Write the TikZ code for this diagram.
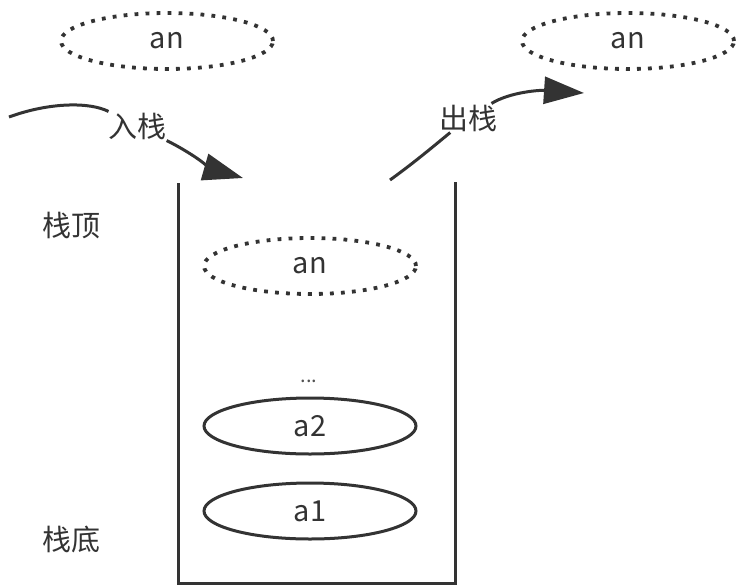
\documentclass[tikz,border=0pt]{standalone}
\usepackage{fontspec}
\setmainfont{Noto Sans CJK SC}
\usetikzlibrary{arrows.meta,shapes.geometric}
\definecolor{ink}{HTML}{333333}
\tikzset{
  elem/.style={ellipse, draw=ink, line width=3pt, minimum width=212pt, minimum height=56pt, inner sep=0pt, text=ink, font=\fontsize{29}{33}\selectfont},
  dotelem/.style={elem, line width=3.8pt, dash pattern=on 3.8pt off 7.2pt},
  lbl/.style={text=ink, font=\fontsize{29}{33}\selectfont, inner sep=1pt},
  flow/.style={draw=ink, line width=3pt},
  flowtip/.style={flow, -{Triangle[length=40pt,width=27pt]}},
  wall/.style={draw=ink, line width=3pt, line cap=butt}
}
\begin{document}
\begin{tikzpicture}[x=1pt,y=-1pt]
\useasboundingbox (0,0) rectangle (736,587);
% top ellipses
\node[dotelem] (inA) at (167,41) {an};
\node[dotelem] (outA) at (628,41) {an};
% container
\coordinate (tl) at (178,183);
\coordinate (bl) at (178,583);
\coordinate (br) at (455,583);
\coordinate (tr) at (455,182);
\draw[wall] (tl) -- (bl) -- (br) -- (tr);
% elements inside
\node[dotelem] (an) at (310,266) {an};
\node[text=ink!85, font=\fontsize{20}{24}\selectfont] (dots) at (309,381) {...};
\node[elem] (a2) at (310,426) {a2};
\node[elem] (a1) at (310,511) {a1};
% side labels
\node[lbl] (top) at (71,226) {栈顶};
\node[lbl] (bottom) at (71,539) {栈底};
% push arrow
\coordinate (pushS) at (9,117);
\coordinate (pushT) at (243,178);
\node[lbl] (push) at (137,126) {入栈};
\draw[flow] (pushS) .. controls (50,102) and (90,102) .. (push);
\draw[flowtip] (push) .. controls (190,152) and (215,170) .. (pushT);
% pop arrow
\coordinate (popS) at (390,180);
\coordinate (popT) at (584,93);
\node[lbl] (pop) at (468,118) {出栈};
\draw[flow] (popS) .. controls (415,162) and (435,145) .. (pop);
\draw[flowtip] (pop) .. controls (510,92) and (540,90) .. (popT);
\end{tikzpicture}
\end{document}
